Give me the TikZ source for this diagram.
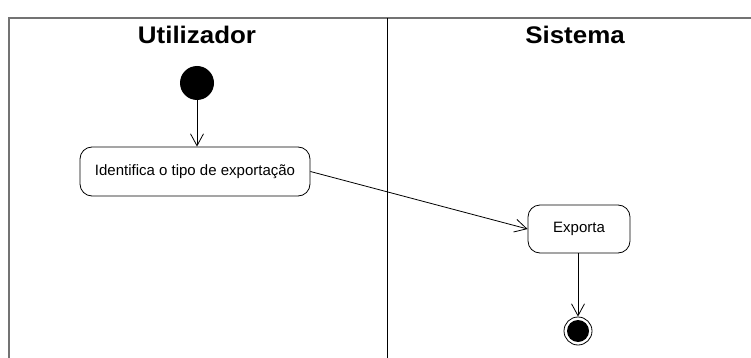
\documentclass[tikz,border=0pt]{standalone}
\usepackage{fontspec}
\setmainfont{Liberation Sans}
\usetikzlibrary{arrows.meta}
\begin{document}
\begin{tikzpicture}[x=1pt,y=-1pt,
  lane/.style={font=\bfseries\fontsize{24}{28}\selectfont, anchor=base, xscale=1.08},
  act/.style={draw, thick, rounded corners=12pt, fill=white, font=\fontsize{15}{17}\selectfont, inner sep=0pt},
  flow/.style={draw, line width=0.8pt, -{Straight Barb[length=12pt,width=13pt,line width=0.8pt]}},
  framegray/.style={draw=black!55, line width=1.5pt},
]
\useasboundingbox (0,0) rectangle (751,358);
\draw[framegray] (9,358) -- (9,18) -- (751,18);
\draw[line width=1pt] (387,18) -- (387,358);
\node[lane] (u) at (197,44) {Utilizador};
\node[lane] (s) at (575,44) {Sistema};
\node[circle, fill=black, minimum width=34pt, minimum height=34pt, inner sep=0pt] (start) at (197,83) {};
\node[act, minimum width=230pt, minimum height=49pt] (a1) at (195,171.5) {Identifica o tipo de exportação};
\node[act, minimum width=102pt, minimum height=48pt] (a2) at (579,229) {Exporta};
\node[circle, draw, line width=0.8pt, minimum size=28pt, inner sep=0pt] (end) at (578,331) {};
\node[circle, fill=black, minimum size=22pt, inner sep=0pt] at (end) {};
\draw[flow] (start) -- (a1.north -| start);
\draw[flow] (a1.east) -- (a2.west);
\draw[flow] (a2.south -| end) -- (end.north);
\end{tikzpicture}
\end{document}
